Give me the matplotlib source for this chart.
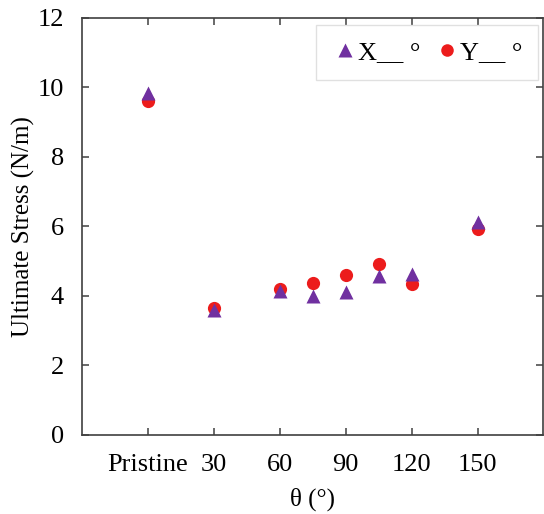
import matplotlib
matplotlib.use("Agg")
import matplotlib.pyplot as plt

# angle positions (0 stands for the pristine sample)
theta = [0, 30, 60, 75, 90, 105, 120, 150]
stress_x = [9.85, 3.60, 4.15, 3.99, 4.10, 4.57, 4.62, 6.12]
stress_y = [9.62, 3.66, 4.20, 4.37, 4.59, 4.91, 4.35, 5.94]
tick_pos = [0, 30, 60, 90, 120, 150]
tick_labels = ["Pristine", "30", "60", "90", "120", "150"]

plt.rcParams["font.family"] = ["Liberation Serif", "DejaVu Serif"]

fig = plt.figure(figsize=(5.44, 5.14), dpi=100)
ax = fig.add_axes([0.151, 0.154, 0.848, 0.811])

ax.plot(theta, stress_x, "^", color="#7030A0", ms=10, mec="none",
        label="X__ °", zorder=3)
ax.plot(theta, stress_y, "o", color="#EC1C1C", ms=9.5, mec="none",
        label="Y__ °", zorder=2)

ax.set_xlim(-30, 180)
ax.set_ylim(0, 12)
ax.set_xticks(tick_pos)
ax.set_xticklabels(tick_labels)
ax.set_yticks(range(0, 13, 2))
ax.tick_params(direction="in", top=True, right=True, length=5,
               width=1.1, color="#404040", labelsize=19)
ax.tick_params(axis="y", pad=13)
ax.tick_params(axis="x", pad=14)
for s in ax.spines.values():
    s.set_color("#404040")
    s.set_linewidth(1.2)

ax.set_xlabel("θ (°)", fontsize=18, labelpad=8)
ax.set_ylabel("Ultimate Stress (N/m)", fontsize=18, labelpad=2)

leg = ax.legend(loc="upper right", ncol=2, fontsize=19, frameon=True,
                fancybox=False, edgecolor="#d9d9d9", markerscale=0.95,
                handlelength=1.0, handletextpad=0.0, columnspacing=0.5,
                borderpad=0.6, borderaxespad=0,
                bbox_to_anchor=(0.988, 0.983))
leg.get_frame().set_linewidth(1.0)

fig.savefig("out.png", dpi=100)
